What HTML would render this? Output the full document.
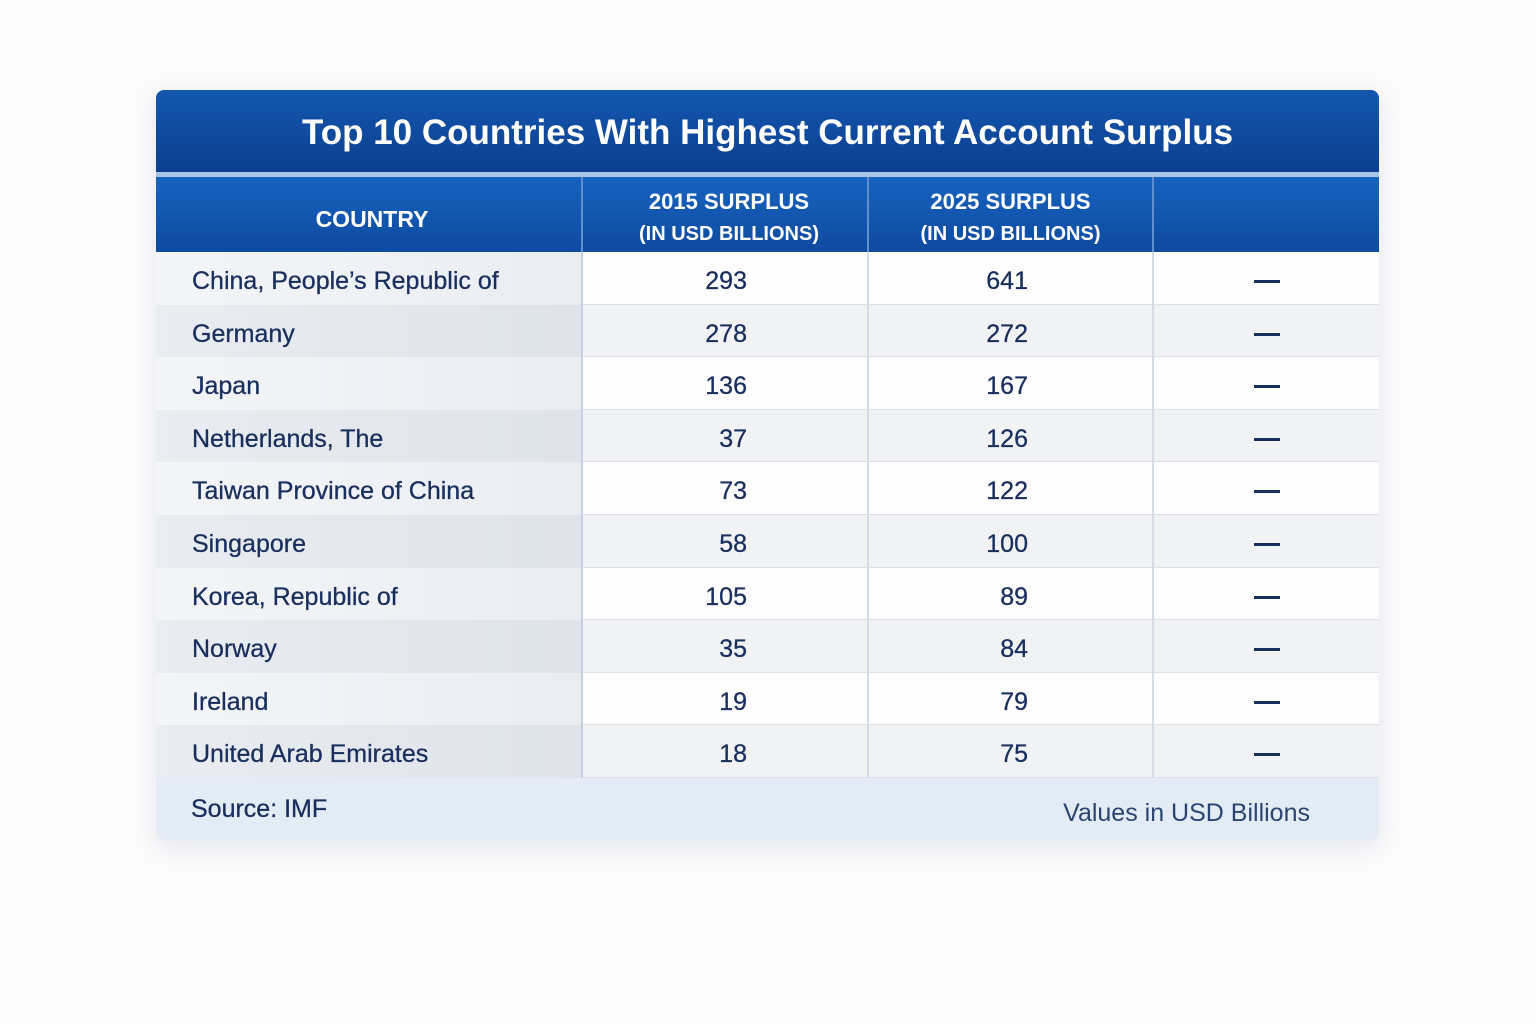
<!DOCTYPE html>
<html><head><meta charset="utf-8">
<style>
*{margin:0;padding:0;box-sizing:border-box}
body{width:1536px;height:1024px;background:#fbfbfc;font-family:"Liberation Sans",sans-serif;position:relative;overflow:hidden}
#card{position:absolute;left:156px;top:90px;width:1223px;height:750px;border-radius:8px;overflow:hidden;box-shadow:0 6px 24px rgba(30,50,90,0.10);background:#fff}
#title{position:absolute;left:0;top:0;width:1223px;height:82px;background:linear-gradient(#1357b0,#0c3f8e);color:#fff;font-size:35px;font-weight:bold;text-align:center;line-height:86px}
#sep{position:absolute;left:0;top:82px;width:1223px;height:5px;background:#a9c4e6}
#head{position:absolute;left:0;top:87px;width:1223px;height:75px;background:linear-gradient(#1763bf,#0e4aa0)}
.hc{position:absolute;top:3px;height:75px;color:#fff;font-weight:bold;text-align:center;display:flex;flex-direction:column;justify-content:center;font-size:22px;line-height:33px}
.hc small{font-size:20px;font-weight:bold}
.vl{position:absolute;top:0;width:2px;background:#5f8fcf;height:75px}
.row{position:absolute;left:0;width:1223px;height:52.6px;border-bottom:1px solid #dde1e7;color:#1a2f5e;font-size:25px;-webkit-text-stroke:0.3px #1a2f5e}
.row .c{position:absolute;top:3px;height:52px;line-height:52px}
.cl{position:absolute;top:0;width:2px;height:52.6px;background:#d6dce5}
.dash{position:absolute;left:1098px;width:26px;height:3px;background:#1a2f5e}
#foot{position:absolute;left:0;top:688px;width:1223px;height:62px;background:#e3ebf5;color:#1a2f5e;font-size:25px}
</style></head><body>
<div id="card">
<div id="title">Top 10 Countries With Highest Current Account Surplus</div>
<div id="sep"></div>
<div id="head">
<div class="hc" style="left:0;width:432px;top:5px;font-size:23px">COUNTRY</div>
<div class="vl" style="left:425px"></div>
<div class="hc" style="left:430px;width:286px"><span>2015 SURPLUS</span><small>(IN USD BILLIONS)</small></div>
<div class="vl" style="left:711px"></div>
<div class="hc" style="left:712px;width:285px"><span>2025 SURPLUS</span><small>(IN USD BILLIONS)</small></div>
<div class="vl" style="left:996px"></div>
</div>
<div id="rows"></div>
<div id="foot">
<span style="position:absolute;left:35px;top:17px;-webkit-text-stroke:0.3px #1a2f5e">Source: IMF</span>
<span style="position:absolute;right:69px;top:21px;color:#2b4472">Values in USD Billions</span>
</div>
</div>
<script>
const countries=["China, People’s Republic of","Germany","Japan","Netherlands, The","Taiwan Province of China","Singapore","Korea, Republic of","Norway","Ireland","United Arab Emirates"];
const surplus2015=[293,278,136,37,73,58,105,35,19,18];
const surplus2025=[641,272,167,126,122,100,89,84,79,75];
const rows=document.getElementById('rows');
countries.forEach((c,i)=>{
  const r=document.createElement('div');
  r.className='row';
  
  
  r.style.top=(162+i*52.6)+'px';
  const even=i%2===1;
  r.style.background=even?'#f1f2f4':'#fdfdfe';
  const cc=document.createElement('div');
  cc.className='c';
  
  
  cc.style.left='0';cc.style.top='0';cc.style.height='52.6px';cc.style.width='426px';cc.style.paddingLeft='36px';cc.style.paddingTop='3px';
  cc.style.background=even?'linear-gradient(90deg,#e9ecf1,#dfe4ea)':'linear-gradient(90deg,#f3f5f8,#e9edf2)';
  cc.textContent=c;r.appendChild(cc);
  const a=document.createElement('div');
  a.className='c';
  
  
  a.style.right=(1223-591)+'px';a.textContent=surplus2015[i];r.appendChild(a);
  const b=document.createElement('div');
  b.className='c';
  
  
  b.style.right=(1223-872)+'px';b.textContent=surplus2025[i];r.appendChild(b);
  [425,711,996].forEach(x=>{const l=document.createElement('div');l.className='cl';
    
    
    l.style.left=x+'px';if(x===425)l.style.background='#c5d2e3';r.appendChild(l);});
  const d=document.createElement('div');d.className='dash';
  
  
  d.style.top='28px';r.appendChild(d);
  rows.appendChild(r);
});
</script>
</body></html>
